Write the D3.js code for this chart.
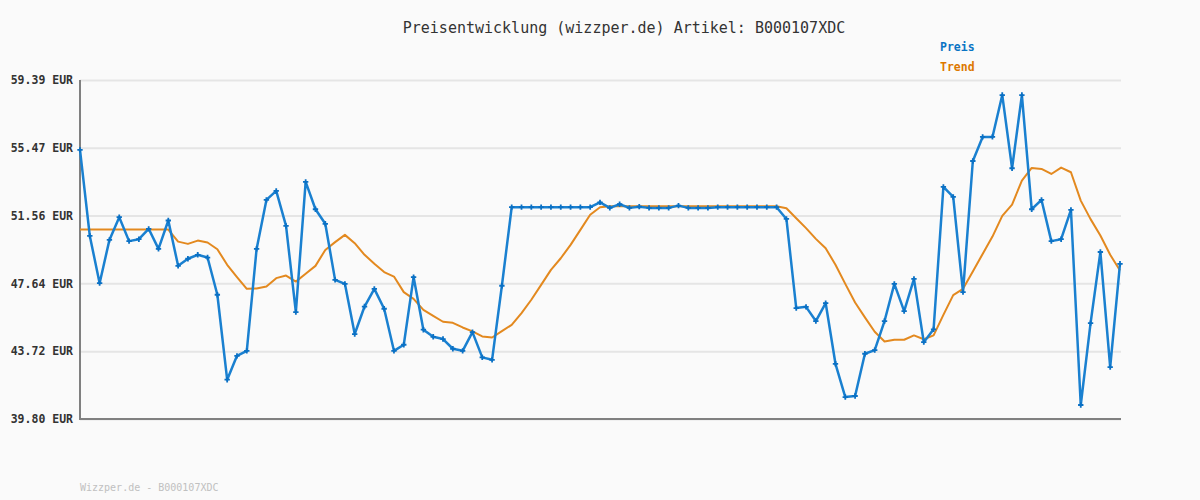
<!DOCTYPE html>
<html>
<head>
<meta charset="utf-8">
<script src="https://cdnjs.cloudflare.com/ajax/libs/d3/7.8.5/d3.min.js"></script>
<style>
  body { margin: 0; background: #fafafa; }
  svg { display: block; background: #fafafa; }
</style>
</head>
<body>
<script>

// price per day (blue line)
let preis = [
  55.35, 50.38, 47.65, 50.15, 51.46, 50.08, 50.19, 50.79, 49.63, 51.27,
  48.65, 49.06, 49.29, 49.13, 46.98, 42.07, 43.45, 43.74, 49.63, 52.46,
  52.98, 50.96, 45.98, 53.50, 51.92, 51.08, 47.84, 47.61, 44.71, 46.30,
  47.32, 46.17, 43.74, 44.09, 48.00, 44.96, 44.55, 44.42, 43.86, 43.74,
  44.82, 43.36, 43.22, 47.50, 52.04, 52.04, 52.04, 52.04, 52.04, 52.04,
  52.04, 52.04, 52.04, 52.32, 52.00, 52.21, 52.00, 52.07, 52.00, 52.00,
  52.00, 52.13, 52.00, 52.00, 52.00, 52.04, 52.04, 52.04, 52.04, 52.04,
  52.04, 52.04, 51.36, 46.21, 46.28, 45.46, 46.50, 42.99, 41.07, 41.13,
  43.57, 43.78, 45.46, 47.61, 46.03, 47.90, 44.24, 44.98, 53.21, 52.63,
  47.13, 54.71, 56.10, 56.10, 58.52, 54.29, 58.52, 51.92, 52.46, 50.08,
  50.19, 51.88, 40.61, 45.34, 49.45, 42.80, 48.77
]

// moving average (orange line)
let trend = [
  50.75, 50.75, 50.75, 50.75, 50.75, 50.75, 50.75, 50.75, 50.75, 50.75,
  50.05, 49.92, 50.11, 50.00, 49.61, 48.71, 48.00, 47.32, 47.34, 47.46,
  47.94, 48.09, 47.74, 48.19, 48.65, 49.57, 50.02, 50.44, 49.96, 49.29,
  48.77, 48.29, 48.03, 47.13, 46.74, 46.11, 45.76, 45.42, 45.36, 45.09,
  44.86, 44.57, 44.51, 44.88, 45.24, 45.92, 46.69, 47.55, 48.42, 49.09,
  49.86, 50.73, 51.60, 52.04, 52.09, 52.09, 52.09, 52.09, 52.09, 52.09,
  52.09, 52.09, 52.09, 52.09, 52.09, 52.09, 52.09, 52.09, 52.09, 52.09,
  52.09, 52.09, 51.98, 51.40, 50.83, 50.21, 49.67, 48.71, 47.61, 46.53,
  45.67, 44.84, 44.28, 44.38, 44.38, 44.63, 44.41, 44.63, 45.82, 46.96,
  47.32, 48.32, 49.34, 50.34, 51.54, 52.19, 53.58, 54.31, 54.25, 53.96,
  54.33, 54.06, 52.42, 51.35, 50.40, 49.29, 48.38
]

let yTicks = [39.80, 43.72, 47.64, 51.56, 55.47, 59.39]
let legendNames = ['Preis', 'Trend']
let titleText = 'Preisentwicklung (wizzper.de) Artikel: B000107XDC'
let footerText = 'Wizzper.de - B000107XDC'

let width = 1200
let height = 500
let plotLeft = 80
let plotRight = 1121
let plotTop = 80
let plotBottom = 419

let blue = '#1a80d0'
let orange = '#e3891f'
let mono = '"DejaVu Sans Mono", "Liberation Mono", monospace'

let svg = d3.select('body')
            .append('svg')
            .attr('width', width)
            .attr('height', height)

let xScale = d3.scaleLinear()
                .domain([0, preis.length - 1])
                .range([plotLeft, plotRight - 1])

let yScale = d3.scaleLinear()
                .domain([yTicks[0], yTicks[yTicks.length - 1]])
                .range([plotBottom, plotTop])

// gridlines
let grid = svg.append('g')
    .attr('transform', 'translate(' + plotLeft + ',0)')
    .call(d3.axisLeft(yScale).tickValues(yTicks).tickSize(-(plotRight - plotLeft)).tickFormat(''))
grid.select('.domain').remove()
grid.selectAll('line')
    .attr('stroke', '#e5e5e5')
    .attr('stroke-width', 2)

// tick labels
let yAxis = svg.append('g')
    .attr('id', 'y-axis')
    .attr('transform', 'translate(' + plotLeft + ',0)')
    .call(d3.axisLeft(yScale).tickValues(yTicks).tickSize(0).tickPadding(7)
            .tickFormat(d => d.toFixed(2) + ' EUR'))
yAxis.select('.domain').remove()
yAxis.selectAll('text')
    .attr('fill', '#333')
    .style('font-family', mono)
    .style('font-size', '11.5px')
    .style('font-weight', 'bold')

// axis lines
svg.append('path')
    .attr('d', 'M' + plotLeft + ',' + plotTop + 'V' + plotBottom + 'H' + plotRight)
    .attr('fill', 'none')
    .attr('stroke', '#808080')
    .attr('stroke-width', 2)

let line = d3.line()
    .x((d, i) => xScale(i))
    .y(d => yScale(d))

svg.append('path')
    .datum(trend)
    .attr('d', line)
    .attr('fill', 'none')
    .attr('stroke', orange)
    .attr('stroke-width', 2)
    .attr('stroke-linejoin', 'round')

svg.append('path')
    .datum(preis)
    .attr('d', line)
    .attr('fill', 'none')
    .attr('stroke', blue)
    .attr('stroke-width', 2.5)
    .attr('stroke-linejoin', 'round')

svg.selectAll('.marker')
    .data(preis)
    .enter()
    .append('path')
    .attr('class', 'marker')
    .attr('d', d3.symbol().type(d3.symbolCross).size(16))
    .attr('transform', (d, i) => 'translate(' + xScale(i) + ',' + yScale(d) + ')')
    .attr('fill', '#0a70c4')

svg.append('text')
    .attr('x', 624)
    .attr('y', 33)
    .attr('text-anchor', 'middle')
    .attr('fill', '#333')
    .style('font-family', mono)
    .style('font-size', '15px')
    .text(titleText)

svg.selectAll('.legend')
    .data(legendNames)
    .enter()
    .append('text')
    .attr('class', 'legend')
    .attr('x', 940)
    .attr('y', (d, i) => 51 + i * 20)
    .attr('fill', (d, i) => i == 0 ? '#0a74c4' : '#dd7800')
    .style('font-family', mono)
    .style('font-size', '11.5px')
    .style('font-weight', 'bold')
    .text(d => d)

svg.append('text')
    .attr('x', 80)
    .attr('y', 491)
    .attr('fill', '#c0c0c0')
    .style('font-family', mono)
    .style('font-size', '10px')
    .text(footerText)

</script>
</body>
</html>
